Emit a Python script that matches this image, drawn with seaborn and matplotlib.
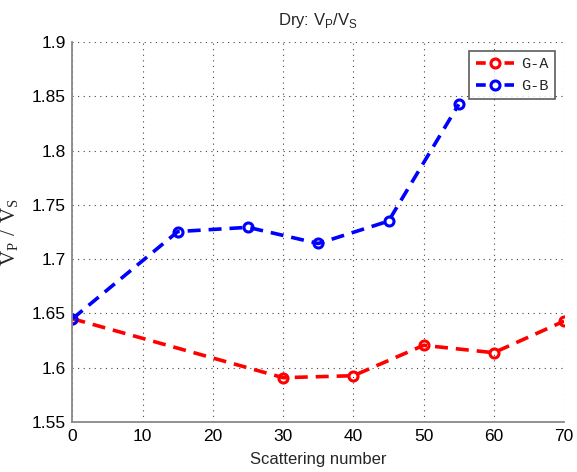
import pandas as pd
import matplotlib.pyplot as plt
import seaborn as sns
import numpy as np

# data
ga_x = [0, 30, 40, 50, 60, 70]
ga_y = [1.6451, 1.5908, 1.5926, 1.6206, 1.6138, 1.6429]
gb_x = [0, 15, 25, 35, 45, 55]
gb_y = [1.6451, 1.7254, 1.7293, 1.7144, 1.7350, 1.8426]
xticks = [0, 10, 20, 30, 40, 50, 60, 70]
yticks = [1.55, 1.6, 1.65, 1.7, 1.75, 1.8, 1.85, 1.9]
ytick_labels = ['1.55', '1.6', '1.65', '1.7', '1.75', '1.8', '1.85', '1.9']

sns.set_style('white')
plt.rcParams['font.family'] = ['Liberation Sans Narrow', 'Liberation Sans', 'DejaVu Sans']
plt.rcParams['mathtext.fontset'] = 'custom'
plt.rcParams['mathtext.rm'] = 'Liberation Serif'
plt.rcParams['mathtext.sf'] = 'Liberation Sans'

df = pd.concat([
    pd.DataFrame({'x': ga_x, 'y': ga_y, 'grp': 'G-A'}),
    pd.DataFrame({'x': gb_x, 'y': gb_y, 'grp': 'G-B'}),
])

fig = plt.figure(figsize=(5.77, 4.72), dpi=100)
ax = fig.add_axes([0.1256, 0.106, 0.852, 0.805])
sns.lineplot(data=df, x='x', y='y', hue='grp', palette={'G-A': 'red', 'G-B': 'blue'},
             linewidth=2.6, marker='o', markersize=6.5, markerfacecolor='none',
             markeredgewidth=2.2, ax=ax)
for ln in ax.lines:
    ln.set_dashes([3.6, 2.2])
    ln.set_markeredgecolor(ln.get_color())

ax.set_xlim(0, 70)
ax.set_ylim(1.55, 1.9)
ax.set_xticks(xticks)
ax.set_yticks(yticks)
ax.set_yticklabels(ytick_labels)
ax.grid(True, linestyle=(0, (1, 4)), color='#444444', linewidth=0.8)
ax.tick_params(labelsize=12.5, direction='out', length=3, width=0.8,
               colors='#888888', labelcolor='black', pad=2)
for s in ['top', 'right']:
    ax.spines[s].set_visible(False)
for s in ['left', 'bottom']:
    ax.spines[s].set_color('#888888')
    ax.spines[s].set_linewidth(1.3)

ax.set_xlabel('Scattering number', fontsize=12, labelpad=6)
ax.set_ylabel(r'$\mathrm{V_P\ /\ V_S}$', fontsize=15, labelpad=8)
ax.set_title(r'Dry: V$_\mathsf{P}$/V$_\mathsf{S}$', fontsize=12, pad=12)

leg = ax.legend(loc='upper right', prop={'family': 'Liberation Mono', 'size': 11},
                frameon=True, fancybox=False, edgecolor='#333333', handlelength=2.5,
                borderaxespad=0.6, borderpad=0.4, labelspacing=0.5, handletextpad=0.5)
leg.get_frame().set_linewidth(1.2)
for h in leg.get_lines():
    h.set_dashes([2.7, 5.2])

plt.savefig('out.png', dpi=100)
